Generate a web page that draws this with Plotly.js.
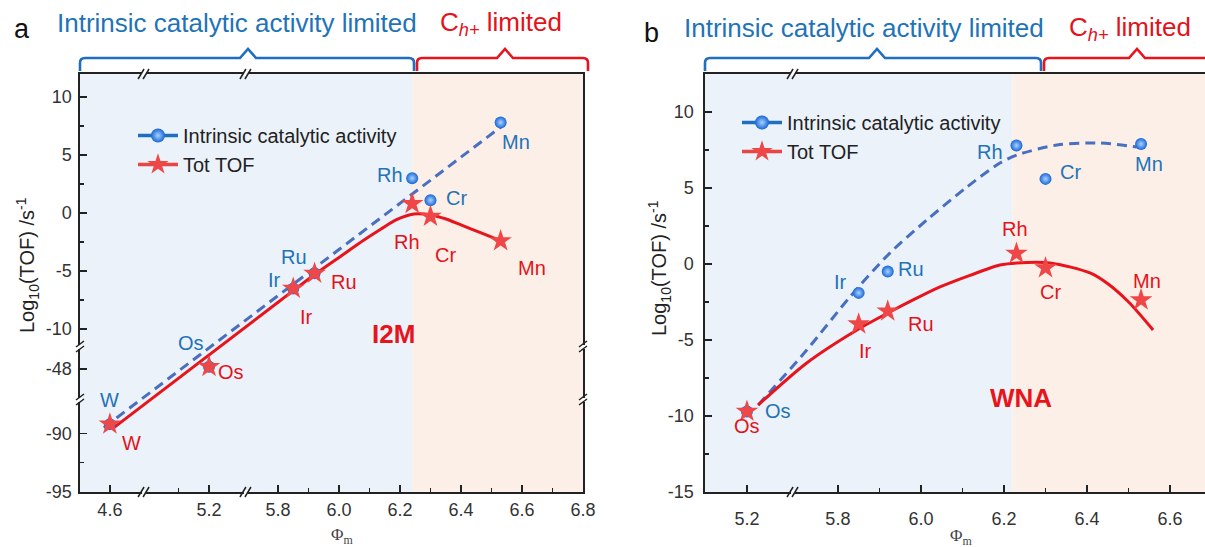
<!DOCTYPE html>
<html>
<head>
<meta charset="utf-8">
<script src="https://cdn.plot.ly/plotly-3.0.1.min.js"></script>
<style>html,body{margin:0;padding:0;background:#fff;}#chart{width:1205px;height:547px;}</style>
</head>
<body>
<div id="chart"></div>
<script>
// ---------------- DATA ----------------
// Panel a (I2M)
const elementsA = ['W', 'Os', 'Ir', 'Ru', 'Rh', 'Cr', 'Mn'];
const phiA = [4.6, 5.2, 5.85, 5.92, 6.24, 6.3, 6.53];
const intrinsicA = [-89.2, -47.8, -6.5, -5.2, 3.0, 1.1, 7.8];
const totTofA = [-89.2, -47.8, -6.5, -5.2, 0.8, -0.3, -2.4];
// fitted trend lines
const fitIntrinsicAx = [4.58, 6.54];
const fitIntrinsicAy = [-89.5, 7.6];
const fitTotAx = [4.613, 5.81, 5.918, 6.007, 6.082, 6.138, 6.187, 6.246, 6.302, 6.351, 6.4, 6.466, 6.531];
const fitTotAy = [-89.5, -7.5, -5.34, -3.7, -2.33, -1.38, -0.6, -0.09, -0.17, -0.52, -1.03, -1.72, -2.41];
const xTicksA = [4.6, 5.2, 5.8, 6.0, 6.2, 6.4, 6.6, 6.8];
const xMinorA = [5.1, 5.9, 6.1, 6.3, 6.5, 6.7];
const yTicksA = [10, 5, 0, -5, -10, -48, -90, -95];
const yMinorA = [7.5, 2.5, -2.5, -7.5, -92.5];

// Panel b (WNA)
const elementsB = ['Os', 'Ir', 'Ru', 'Rh', 'Cr', 'Mn'];
const phiB = [5.2, 5.85, 5.92, 6.23, 6.3, 6.53];
const intrinsicB = [-9.7, -1.9, -0.5, 7.8, 5.6, 7.9];
const totTofB = [-9.7, -3.95, -3.1, 0.7, -0.26, -2.37];
const fitIntrinsicBx = [5.227, 5.725, 5.829, 5.925, 6.014, 6.111, 6.19, 6.231, 6.328, 6.431, 6.52];
const fitIntrinsicBy = [-9.28, -5.66, -2.17, 0.72, 2.89, 5.07, 6.64, 7.17, 7.83, 7.96, 7.7];
const fitTotBx = [5.227, 5.725, 5.846, 5.925, 5.986, 6.046, 6.118, 6.19, 6.231, 6.311, 6.407, 6.45, 6.5, 6.559];
const fitTotBy = [-9.28, -6.51, -4.34, -3.16, -2.3, -1.51, -0.75, -0.07, 0.07, 0.07, -0.59, -1.3, -2.5, -4.34];
const xTicksB = [5.2, 5.8, 6.0, 6.2, 6.4, 6.6];
const xMinorB = [5.9, 6.1, 6.3, 6.5];
const yTicksB = [10, 5, 0, -5, -10, -15];
const yMinorB = [7.5, 2.5, -2.5, -7.5, -12.5];

const boundaryA = 6.24;
const boundaryB = 6.22;

// ---------------- BROKEN-AXIS SCALES ----------------
function mapAx(v) { return v >= 5.5 ? v : (v >= 4.85 ? v + 0.374 : v + 0.649); }
function mapAy(v) { return v >= -11.55 ? v : (v >= -60 ? v + 34.55 : v + 71); }
function mapBx(v) { return v >= 5.5 ? v : v + 0.381; }
function mapBy(v) { return v; }
const rangeAx = [5.151, 6.8], rangeAy = [-24.05, 11.98];
const rangeBx = [5.48, 6.684], rangeBy = [-15, 12.5];
const breaksAx = [5.361, 5.695], breaksAy = [-11.55, -16.12];
const breaksBx = [5.692];

// ---------------- STYLE ----------------
const W = 1205, H = 547;
const FONT = 'Liberation Sans, Arial, sans-serif';
const BLUE_TXT = '#1f73b7', RED_TXT = '#e3131b';
const BLUE_LINE = '#4a6fc0', RED_LINE = '#e8141c';
const BLUE_MK = '#1766d6', RED_MK = '#ef4747';
const AXC = '#222';
const px = x => x / W;
const py = y => 1 - y / H;
const yDom = [py(492), py(74)];

const traces = [];
function addPanel(xa, ya, mx, my, elems, phi, intr, tot, fIx, fIy, fTx, fTy) {
  traces.push({x: fIx.map(mx), y: fIy.map(my), xaxis: xa, yaxis: ya, mode: 'lines', line: {shape: 'spline', smoothing: 0.8, color: BLUE_LINE, width: 3, dash: '10px,6px'}, showlegend: false, hoverinfo: 'skip'});
  traces.push({x: fTx.map(mx), y: fTy.map(my), xaxis: xa, yaxis: ya, mode: 'lines', line: {shape: 'spline', smoothing: 0.8, color: RED_LINE, width: 3}, showlegend: false, hoverinfo: 'skip'});
  traces.push({x: phi.map(mx), y: intr.map(my), text: elems, xaxis: xa, yaxis: ya, mode: 'markers', marker: {symbol: 'circle', size: 12, color: BLUE_MK, gradient: {type: 'radial', color: '#a9d2ff'}}, showlegend: false});
  traces.push({x: phi.map(mx), y: tot.map(my), text: elems, xaxis: xa, yaxis: ya, mode: 'markers', marker: {symbol: 'star', size: 17, color: RED_MK, line: {width: 0}}, showlegend: false});
}
addPanel('x', 'y', mapAx, mapAy, elementsA, phiA, intrinsicA, totTofA, fitIntrinsicAx, fitIntrinsicAy, fitTotAx, fitTotAy);
addPanel('x2', 'y2', mapBx, mapBy, elementsB, phiB, intrinsicB, totTofB, fitIntrinsicBx, fitIntrinsicBy, fitTotBx, fitTotBy);

// legend-only traces
[['legend', 'x', 'y'], ['legend2', 'x2', 'y2']].forEach(([lg, xa, ya]) => {
  traces.push({x: [null], y: [null], xaxis: xa, yaxis: ya, legend: lg, mode: 'lines+markers', name: 'Intrinsic catalytic activity', line: {color: '#1f6fc0', width: 3.5}, marker: {symbol: 'circle', size: 14, color: BLUE_MK, gradient: {type: 'radial', color: '#a9d2ff'}}});
  traces.push({x: [null], y: [null], xaxis: xa, yaxis: ya, legend: lg, mode: 'lines+markers', name: 'Tot TOF', line: {color: '#e84545', width: 3.5}, marker: {symbol: 'star', size: 16, color: RED_MK}});
});

// ---------------- AXES ----------------
function axis(domain, range, tickvals, ticktext, minorvals, anchor, extra) {
  return Object.assign({
    domain: domain, range: range, anchor: anchor, showline: true, mirror: true, linecolor: AXC, linewidth: 1.6,
    ticks: 'inside', ticklen: 7, tickwidth: 1.5, tickcolor: AXC, tickmode: 'array', tickvals: tickvals, ticktext: ticktext,
    tickfont: {family: FONT, size: 18, color: '#333'}, showgrid: false, zeroline: false, fixedrange: true,
    minor: {tickmode: 'array', tickvals: minorvals, ticks: 'inside', ticklen: 4, tickwidth: 1.5, tickcolor: AXC, showgrid: false}
  }, extra || {});
}
const fmt1 = v => v.toFixed(1);
const fmt0 = v => String(v);

const layout = {
  width: W, height: H, margin: {l: 0, r: 0, t: 0, b: 0}, paper_bgcolor: '#fff', plot_bgcolor: 'rgba(0,0,0,0)',
  font: {family: FONT},
  xaxis: axis([px(80), px(583)], rangeAx, xTicksA.map(mapAx), xTicksA.map(fmt1), xMinorA.map(mapAx), 'y', {ticklabelstandoff: 1}),
  yaxis: axis(yDom, rangeAy, yTicksA.map(mapAy), yTicksA.map(fmt0), yMinorA.map(mapAy), 'x', {ticklabelstandoff: 3}),
  xaxis2: axis([px(705), 1], rangeBx, xTicksB.map(mapBx), xTicksB.map(fmt1), xMinorB.map(mapBx), 'y2', {ticklabelstandoff: 10}),
  yaxis2: axis(yDom, rangeBy, yTicksB.map(mapBy), yTicksB.map(fmt0), yMinorB.map(mapBy), 'x2', {mirror: false, ticklabelstandoff: 6}),
  legend: {x: px(133), y: py(116), xanchor: 'left', yanchor: 'top', bgcolor: 'rgba(0,0,0,0)', font: {family: FONT, size: 20, color: '#222'}, itemwidth: 40, tracegroupgap: 0},
  legend2: {x: px(737), y: py(103), xanchor: 'left', yanchor: 'top', bgcolor: 'rgba(0,0,0,0)', font: {family: FONT, size: 20, color: '#222'}, itemwidth: 40, tracegroupgap: 0},
  shapes: [], annotations: []
};

// background regions
layout.shapes.push({type: 'rect', layer: 'below', xref: 'x', yref: 'y domain', x0: rangeAx[0], x1: boundaryA, y0: 0, y1: 1, fillcolor: '#ebf2fa', line: {width: 0}});
layout.shapes.push({type: 'rect', layer: 'below', xref: 'x', yref: 'y domain', x0: boundaryA, x1: rangeAx[1], y0: 0, y1: 1, fillcolor: '#fcefe7', line: {width: 0}});
layout.shapes.push({type: 'rect', layer: 'below', xref: 'x2', yref: 'y2 domain', x0: rangeBx[0], x1: boundaryB, y0: 0, y1: 1, fillcolor: '#ebf2fa', line: {width: 0}});
layout.shapes.push({type: 'rect', layer: 'below', xref: 'x2', yref: 'y2 domain', x0: boundaryB, x1: rangeBx[1], y0: 0, y1: 1, fillcolor: '#fcefe7', line: {width: 0}});

// axis break marks
function xBreak(xref, xv, yPaper) {
  layout.shapes.push({type: 'line', xref: xref, yref: 'paper', xsizemode: 'pixel', ysizemode: 'pixel', xanchor: xv, yanchor: yPaper, x0: -2, x1: 2, y0: 0, y1: 0, line: {color: '#fff', width: 4}});
  [-3, 2].forEach(o => layout.shapes.push({type: 'line', xref: xref, yref: 'paper', xsizemode: 'pixel', ysizemode: 'pixel', xanchor: xv, yanchor: yPaper, x0: o - 3, x1: o + 3, y0: -5, y1: 5, line: {color: AXC, width: 1.5}}));
}
function yBreak(yref, yv, xPaper) {
  layout.shapes.push({type: 'line', xref: 'paper', yref: yref, xsizemode: 'pixel', ysizemode: 'pixel', xanchor: xPaper, yanchor: yv, x0: 0, x1: 0, y0: -2, y1: 2, line: {color: '#fff', width: 4}});
  [-2, 3].forEach(o => layout.shapes.push({type: 'line', xref: 'paper', yref: yref, xsizemode: 'pixel', ysizemode: 'pixel', xanchor: xPaper, yanchor: yv, x0: -4, x1: 4, y0: o - 3, y1: o + 3, line: {color: AXC, width: 1.5}}));
}
breaksAx.forEach(b => { xBreak('x', b, yDom[0]); xBreak('x', b, yDom[1]); });
breaksAy.forEach(b => { yBreak('y', b, px(80)); yBreak('y', b, px(583)); });
breaksBx.forEach(b => { xBreak('x2', b, yDom[0]); xBreak('x2', b, yDom[1]); });

// braces above panels
function brace(x0, x1, xt, color) {
  const yH = 58, yE = 71, yT = 49, r = 5, hw = 8;
  const P = (x, y) => px(x).toFixed(5) + ',' + py(y).toFixed(5);
  const path = 'M' + P(x0, yE) + ' L' + P(x0, yH + r) + ' Q' + P(x0, yH) + ' ' + P(x0 + r, yH) +
    ' L' + P(xt - hw, yH) + ' L' + P(xt, yT) + ' L' + P(xt + hw, yH) +
    ' L' + P(x1 - r, yH) + ' Q' + P(x1, yH) + ' ' + P(x1, yH + r) + ' L' + P(x1, yE);
  layout.shapes.push({type: 'path', xref: 'paper', yref: 'paper', path: path, line: {color: color, width: 2.6}});
}
brace(80, 414, 248, '#1f6ebf');
brace(417, 588, 505, '#e8141c');
brace(705, 1041, 877, '#1f6ebf');
brace(1044, 1230, 1137, '#e8141c');

// header texts
function ann(x, y, text, size, color, extra) {
  layout.annotations.push(Object.assign({xref: 'paper', yref: 'paper', x: px(x), y: py(y), text: text, showarrow: false, xanchor: 'center', yanchor: 'middle', font: {family: FONT, size: size, color: color}}, extra || {}));
}
ann(22, 29, 'a', 27, '#111');
ann(237, 23, 'Intrinsic catalytic activity limited', 26, BLUE_TXT);
ann(501, 23, 'C<sub><i>h+</i></sub> limited', 26, RED_TXT);
ann(651, 33, 'b', 27, '#111');
ann(864, 28, 'Intrinsic catalytic activity limited', 26, BLUE_TXT);
ann(1130, 28, 'C<sub><i>h+</i></sub> limited', 26, RED_TXT);

// axis titles
ann(27, 265, 'Log<sub>10</sub>(TOF) /s<sup>-1</sup>', 20, '#222', {textangle: -90});
ann(660, 268, 'Log<sub>10</sub>(TOF) /s<sup>-1</sup>', 20, '#222', {textangle: -90});
ann(342, 536, 'Φ<sub>m</sub>', 17, '#444', {font: {family: 'Liberation Serif, serif', size: 17, color: '#444'}});
ann(961, 537, 'Φ<sub>m</sub>', 17, '#444', {font: {family: 'Liberation Serif, serif', size: 17, color: '#444'}});

// panel tags
layout.annotations.push({xref: 'x', yref: 'paper', x: mapAx(6.18), y: py(334), xanchor: 'center', yanchor: 'middle', text: '<b>I2M</b>', showarrow: false, font: {family: FONT, size: 26, color: '#e8141c'}});
layout.annotations.push({xref: 'x2', yref: 'paper', x: mapBx(6.24), y: py(398), xanchor: 'center', yanchor: 'middle', text: '<b>WNA</b>', showarrow: false, font: {family: FONT, size: 26, color: '#e8141c'}});

// element labels (pixel offsets from each marker)
const offIntrA = [[0, 24], [-18, 24], [-19, 8], [-21, 16], [-22, 3], [26, 2], [15, -20]];
const offTotA = [[22, -19], [22, -5], [13, -29], [29, -9], [-5, -38], [15, -39], [31, -27]];
const offIntrB = [[31, 0], [-18, 11], [23, 3], [-26, -7], [25, 7], [8, -20]];
const offTotB = [[0, -15], [7, -27], [33, -13], [-1, 24], [5, -24], [6, 19]];
function labels(xa, ya, mx, my, elems, phi, vals, offs, color) {
  elems.forEach((e, i) => layout.annotations.push({xref: xa, yref: ya, x: mx(phi[i]), y: my(vals[i]), text: e, showarrow: false, xshift: offs[i][0], yshift: offs[i][1], xanchor: 'center', yanchor: 'middle', font: {family: FONT, size: 20, color: color}}));
}
labels('x', 'y', mapAx, mapAy, elementsA, phiA, intrinsicA, offIntrA, BLUE_TXT);
labels('x', 'y', mapAx, mapAy, elementsA, phiA, totTofA, offTotA, RED_TXT);
labels('x2', 'y2', mapBx, mapBy, elementsB, phiB, intrinsicB, offIntrB, BLUE_TXT);
labels('x2', 'y2', mapBx, mapBy, elementsB, phiB, totTofB, offTotB, RED_TXT);

Plotly.newPlot('chart', traces, layout, {staticPlot: true, displayModeBar: false});
</script>
</body>
</html>
